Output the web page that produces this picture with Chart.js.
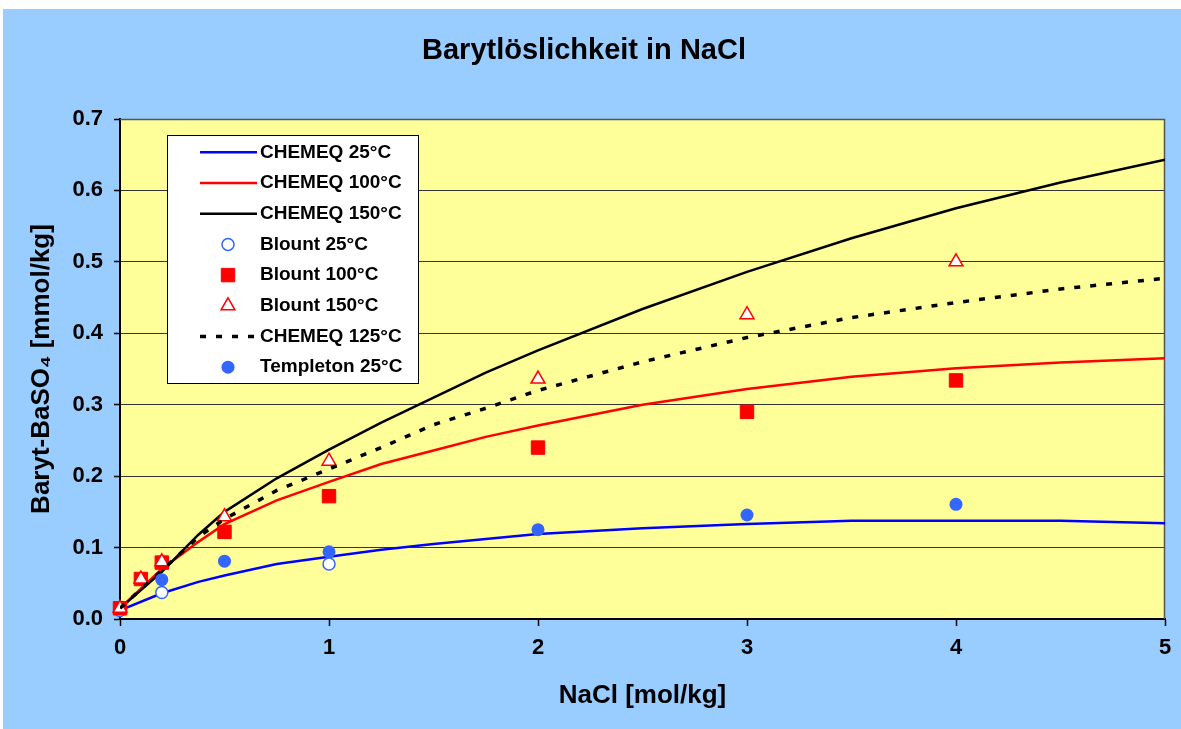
<!DOCTYPE html>
<html>
<head>
<meta charset="utf-8">
<title>Barytlöslichkeit in NaCl</title>
<script src="https://cdn.jsdelivr.net/npm/chart.js@4.4.1/dist/chart.umd.min.js"></script>
<style>
  html, body { margin: 0; padding: 0; background: #fff; }
  #wrap { position: absolute; left: 3px; top: 9px; width: 1178px; height: 720px; background: #99CCFF; }
</style>
</head>
<body>
<div id="wrap"><canvas id="barytChart" width="1178" height="720"></canvas></div>
<script>
// NaCl molality steps of the CHEMEQ model curves
const chemX = [0, 0.2, 0.375, 0.5, 0.75, 1, 1.25, 1.5, 1.75, 2, 2.5, 3, 3.5, 4, 4.5, 5];
const chem25 = [0.012, 0.036, 0.052, 0.061, 0.077, 0.087, 0.097, 0.105, 0.112, 0.119, 0.127, 0.133, 0.1377, 0.1377, 0.1377, 0.134];
const chem100 = [0.015, 0.070, 0.108, 0.133, 0.166, 0.192, 0.217, 0.236, 0.255, 0.271, 0.300, 0.322, 0.339, 0.351, 0.359, 0.365];
const chem150 = [0.015, 0.066, 0.118, 0.150, 0.197, 0.237, 0.275, 0.310, 0.345, 0.376, 0.434, 0.486, 0.533, 0.575, 0.611, 0.643];
const chem125 = [0.015, 0.068, 0.115, 0.140, 0.180, 0.210, 0.240, 0.272, 0.295, 0.320, 0.360, 0.394, 0.422, 0.443, 0.462, 0.477];

// measured data
const blount25X = [0, 0.2, 1];
const blount25 = [0.012, 0.037, 0.077];
const blountX = [0, 0.1, 0.2, 0.5, 1, 2, 3, 4];
const blount100 = [0.015, 0.056, 0.079, 0.122, 0.172, 0.240, 0.290, 0.334];
const blount150 = [0.015, 0.056, 0.080, 0.143, 0.221, 0.336, 0.426, 0.500];
const templetonX = [0.2, 0.5, 1, 2, 3, 4];
const templeton25 = [0.055, 0.081, 0.094, 0.125, 0.1456, 0.1605];

const xTicks = [0, 1, 2, 3, 4, 5];
const yTicks = [0, 0.1, 0.2, 0.3, 0.4, 0.5, 0.6, 0.7];

const FONT = "'Liberation Sans', Arial, sans-serif";
const pts = (xs, ys) => xs.map((x, i) => ({ x: x, y: ys[i] }));

// plot area fill and the thin top/right frame
const plotArea = {
    id: 'plotArea',
    beforeDraw(chart) {
        const { ctx, chartArea: a } = chart;
        ctx.save();
        ctx.fillStyle = '#FFFF99';
        ctx.fillRect(a.left, a.top, a.width, a.height);
        ctx.restore();
    },
    beforeDatasetsDraw(chart) {
        const { ctx, chartArea: a } = chart;
        ctx.save();
        ctx.strokeStyle = '#555555';
        ctx.lineWidth = 1.5;
        ctx.beginPath();
        ctx.moveTo(a.left, a.top + 0.5);
        ctx.lineTo(a.right - 0.5, a.top + 0.5);
        ctx.lineTo(a.right - 0.5, a.bottom);
        ctx.stroke();
        ctx.restore();
    }
};

// boxed legend inside the plot, like the Excel one
const legendBox = {
    id: 'legendBox',
    afterDraw(chart) {
        const { ctx, chartArea: a } = chart;
        const x0 = a.left + 47, y0 = a.top + 16, w = 251, h = 248;
        ctx.save();
        ctx.fillStyle = '#ffffff';
        ctx.fillRect(x0, y0, w, h);
        ctx.strokeStyle = '#000000';
        ctx.lineWidth = 1;
        ctx.strokeRect(x0 + 0.5, y0 + 0.5, w, h);
        ctx.font = 'bold 19px ' + FONT;
        ctx.textBaseline = 'middle';
        ctx.textAlign = 'left';
        chart.data.datasets.forEach((ds, i) => {
            const cy = y0 + 17.3 + i * 30.7;
            if (ds.showLine) {
                ctx.strokeStyle = ds.borderColor;
                ctx.lineWidth = ds.borderWidth;
                ctx.setLineDash(ds.borderDash || []);
                ctx.beginPath();
                ctx.moveTo(x0 + 33, cy);
                ctx.lineTo(x0 + 90, cy);
                ctx.stroke();
                ctx.setLineDash([]);
            } else {
                ctx.fillStyle = ds.pointBackgroundColor;
                ctx.strokeStyle = ds.pointBorderColor;
                ctx.lineWidth = ds.pointBorderWidth;
                Chart.helpers.drawPoint(ctx, {
                    pointStyle: ds.pointStyle,
                    radius: ds.pointRadius,
                    rotation: 0,
                    borderWidth: ds.pointBorderWidth
                }, x0 + 61, cy);
            }
            ctx.fillStyle = '#000000';
            ctx.fillText(ds.label, x0 + 93, cy);
        });
        ctx.restore();
    }
};

const lineSet = (label, data, color, extra) => Object.assign({
    label: label,
    data: data,
    showLine: true,
    borderColor: color,
    backgroundColor: color,
    borderWidth: 2.5,
    pointRadius: 0,
    tension: 0
}, extra || {});

const markerSet = (label, data, style, radius, fill, stroke, bw) => ({
    label: label,
    data: data,
    showLine: false,
    pointStyle: style,
    pointRadius: radius,
    pointHoverRadius: radius,
    pointBackgroundColor: fill,
    pointBorderColor: stroke,
    pointBorderWidth: bw,
    clip: false
});

const datasets = [
    lineSet('CHEMEQ 25°C', pts(chemX, chem25), '#0000FF'),
    lineSet('CHEMEQ 100°C', pts(chemX, chem100), '#FF0000'),
    lineSet('CHEMEQ 150°C', pts(chemX, chem150), '#000000'),
    markerSet('Blount 25°C', pts(blount25X, blount25), 'circle', 6, '#ffffff', '#3366FF', 1.5),
    markerSet('Blount 100°C', pts(blountX, blount100), 'rect', 9.5, '#FF0000', '#FF0000', 1),
    markerSet('Blount 150°C', pts(blountX, blount150), 'triangle', 8, '#ffffff', '#FF0000', 1.5),
    lineSet('CHEMEQ 125°C', pts(chemX, chem125), '#000000', { borderDash: [6, 10], borderWidth: 3.5 }),
    markerSet('Templeton 25°C', pts(templetonX, templeton25), 'circle', 6.5, '#3366FF', '#3366FF', 0)
];
// later series on top, as in the original
datasets.forEach((ds, i) => { ds.order = -i; });

new Chart(document.getElementById('barytChart'), {
    type: 'scatter',
    data: { datasets: datasets },
    options: {
        responsive: false,
        animation: false,
        devicePixelRatio: 1,
        layout: { padding: { left: 0, right: 16, top: 0, bottom: 0 } },
        plugins: {
            legend: { display: false },
            tooltip: { enabled: false },
            title: {
                display: true,
                text: 'Barytlöslichkeit in NaCl',
                color: '#000000',
                font: { family: FONT, size: 29, weight: 'bold' },
                padding: { top: 24.6, bottom: 50.6 }
            }
        },
        scales: {
            x: {
                type: 'linear',
                min: 0,
                max: 5,
                afterFit: (s) => { s.height = 110; },
                afterBuildTicks: (s) => { s.ticks = xTicks.map(v => ({ value: v })); },
                ticks: {
                    color: '#000000',
                    padding: 8.8,
                    font: { family: FONT, size: 22, weight: 'bold' },
                    callback: (v) => String(v)
                },
                grid: { drawOnChartArea: false, drawTicks: true, tickLength: 7, tickColor: '#000000', tickWidth: 1.5 },
                border: { display: true, color: '#000000', width: 2 },
                title: {
                    display: true,
                    text: 'NaCl [mol/kg]',
                    color: '#000000',
                    font: { family: FONT, size: 26, weight: 'bold' },
                    padding: { top: 0, bottom: 18 }
                }
            },
            y: {
                type: 'linear',
                min: 0,
                max: 0.7,
                afterFit: (s) => { s.width = 117; },
                afterBuildTicks: (s) => { s.ticks = yTicks.map(v => ({ value: v })); },
                ticks: {
                    color: '#000000',
                    padding: 11,
                    font: { family: FONT, size: 22, weight: 'bold' },
                    callback: (v) => v.toFixed(1)
                },
                grid: { color: '#333333', lineWidth: 1, drawTicks: true, tickLength: 6, tickColor: '#000000', tickWidth: 1.5 },
                border: { display: true, color: '#000000', width: 2 },
                title: {
                    display: true,
                    text: 'Baryt-BaSO₄ [mmol/kg]',
                    color: '#000000',
                    font: { family: FONT, size: 26, weight: 'bold' },
                    padding: { top: 23, bottom: 0 }
                }
            }
        }
    },
    plugins: [plotArea, legendBox]
});
</script>
</body>
</html>
